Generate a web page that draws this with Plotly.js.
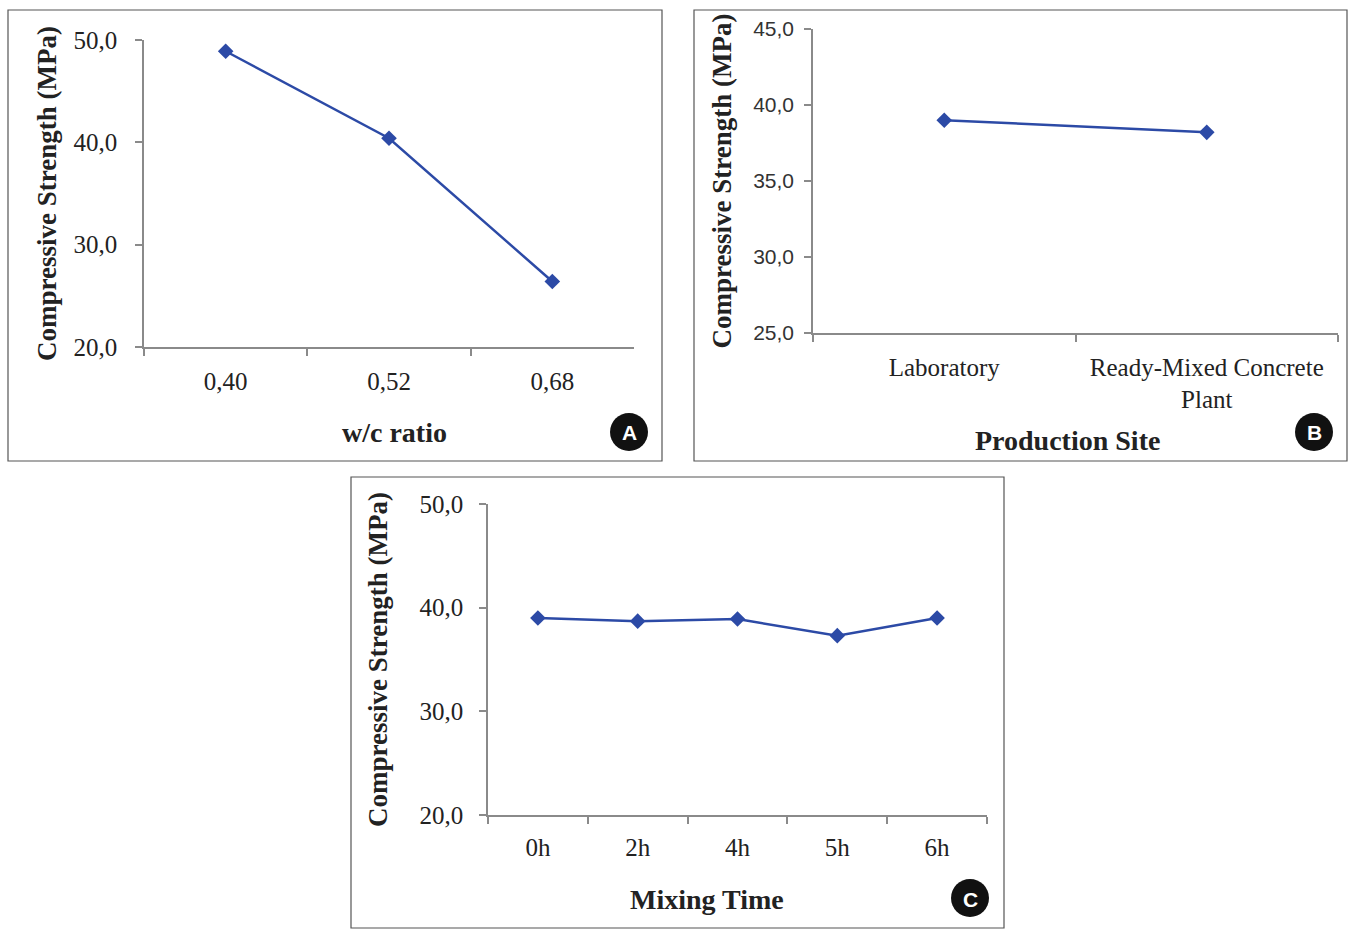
<!DOCTYPE html>
<html>
<head>
<meta charset="utf-8">
<script src="https://cdn.plot.ly/plotly-3.0.1.min.js"></script>
<style>html,body{margin:0;padding:0;background:#fff;}#chart{width:1353px;height:944px;}</style>
</head>
<body>
<div id="chart"></div>
<script>
// ---- Data ----
const wcRatio = ['0,40', '0,52', '0,68'];
const strengthByWc = [48.9, 40.4, 26.4];

const productionSite = ['Laboratory', 'Ready-Mixed Concrete<br>Plant'];
const strengthBySite = [39.0, 38.2];

const mixingTime = ['0h', '2h', '4h', '5h', '6h'];
const strengthByTime = [39.0, 38.7, 38.9, 37.3, 39.0];

const yTitle = 'Compressive Strength (MPa)';
const xTitles = ['w/c ratio', 'Production Site', 'Mixing Time'];
const panelLetters = ['A', 'B', 'C'];

// ---- Layout helpers ----
const W = 1353, H = 944;
const px = x => x / W;
const py = y => 1 - y / H;

const SERIF = '"Liberation Serif", "DejaVu Serif", serif';
const SANS = '"Liberation Sans", Arial, sans-serif';
const LINE = '#2c4aa6';
const AXIS = '#8a8a8a';
const TXT = '#222222';

function trace(x, y, xa, ya) {
  return {
    x: x, y: y, xaxis: xa, yaxis: ya, type: 'scatter', mode: 'lines+markers',
    line: {color: LINE, width: 2.5},
    marker: {symbol: 'diamond', size: 12, color: LINE},
    hoverinfo: 'x+y', showlegend: false, cliponaxis: false
  };
}

function xAxis(dom, n, yref, font, labStand) {
  return {
    domain: dom, anchor: yref, type: 'category', range: [-0.5, n - 0.5],
    tickson: 'boundaries', ticks: 'outside', ticklen: 7, tickwidth: 1.5, tickcolor: AXIS,
    showline: true, linecolor: AXIS, linewidth: 1.5, showgrid: false, zeroline: false,
    tickfont: font, ticklabelstandoff: labStand,
    automargin: false, fixedrange: true
  };
}

function yAxis(dom, xref, range, dtick, font, labStand, standoff) {
  return {
    domain: dom, anchor: xref, range: range, dtick: dtick, tick0: range[0],
    tickformat: '.1f', ticks: 'outside', ticklen: 7, tickwidth: 1.5, tickcolor: AXIS,
    showline: true, linecolor: AXIS, linewidth: 1.5, showgrid: false, zeroline: false,
    tickfont: font, ticklabelstandoff: labStand, automargin: false, fixedrange: true,
    title: {text: '<b>' + yTitle + '</b>', font: {family: SERIF, size: 27, color: TXT}, standoff: standoff}
  };
}

const data = [
  trace(wcRatio, strengthByWc, 'x', 'y'),
  trace(productionSite, strengthBySite, 'x2', 'y2'),
  trace(mixingTime, strengthByTime, 'x3', 'y3')
];

const frames = [[8, 10, 662, 461], [694, 10, 1347, 461], [351, 477, 1004, 928]];
const badges = [[629, 432], [1314, 432], [970, 898]];
const xTitlePos = [[394, 433], [1067, 440], [707, 899]];
const R = 19;

const shapes = frames.map(f => ({
  type: 'rect', xref: 'paper', yref: 'paper',
  x0: px(f[0]), x1: px(f[2]), y0: py(f[3]), y1: py(f[1]),
  line: {color: '#555555', width: 1.2}, fillcolor: 'rgba(0,0,0,0)', layer: 'below'
})).concat(badges.map(b => ({
  type: 'circle', xref: 'paper', yref: 'paper',
  x0: px(b[0] - R), x1: px(b[0] + R), y0: py(b[1] + R), y1: py(b[1] - R),
  line: {color: '#111111', width: 0}, fillcolor: '#111111'
})));

const annotations = badges.map((b, i) => ({
  xref: 'paper', yref: 'paper', x: px(b[0]), y: py(b[1] + 1), xanchor: 'center', yanchor: 'middle',
  text: '<b>' + panelLetters[i] + '</b>', showarrow: false,
  font: {family: SANS, size: 21, color: '#ffffff'}
})).concat(xTitlePos.map((p, i) => ({
  xref: 'paper', yref: 'paper', x: px(p[0]), y: py(p[1]), xanchor: 'center', yanchor: 'middle',
  text: '<b>' + xTitles[i] + '</b>', showarrow: false,
  font: {family: SERIF, size: 28, color: TXT}
})));

const serifTick = {family: SERIF, size: 25, color: TXT};
const serifTickB = {family: SERIF, size: 25, color: TXT};
const sansTick = {family: SANS, size: 21, color: '#333333'};

const layout = {
  width: W, height: H,
  margin: {l: 0, r: 0, t: 0, b: 0},
  paper_bgcolor: '#ffffff', plot_bgcolor: 'rgba(0,0,0,0)',
  separators: ',.',
  showlegend: false,
  xaxis: xAxis([px(144), px(634)], wcRatio.length, 'y', serifTick, 11),
  yaxis: yAxis([py(347), py(40)], 'x', [20, 50], 10, serifTick, 13, 9),
  xaxis2: xAxis([px(813), px(1338)], productionSite.length, 'y2', serifTickB, 11),
  yaxis2: yAxis([py(333), py(29)], 'x2', [25, 45], 5, sansTick, 6, 14),
  xaxis3: xAxis([px(488), px(987)], mixingTime.length, 'y3', serifTick, 9),
  yaxis3: yAxis([py(815), py(504)], 'x3', [20, 50], 10, serifTick, 11, 24),
  shapes: shapes,
  annotations: annotations
};

Plotly.newPlot('chart', data, layout, {displayModeBar: false, responsive: false});
</script>
</body>
</html>
